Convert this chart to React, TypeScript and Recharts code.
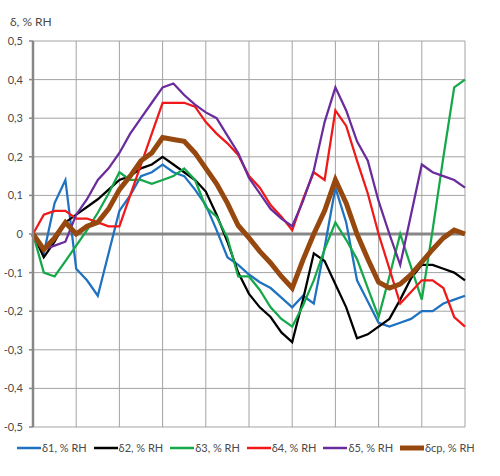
import { LineChart, Line, XAxis, YAxis, CartesianGrid, ReferenceLine, Legend } from "recharts"

// relative humidity points, % RH
const rh = [
  0, 2.5, 5, 7.5, 10, 12.5, 15, 17.5, 20, 22.5, 25, 27.5, 30, 32.5, 35, 37.5, 40, 42.5, 45, 47.5, 50,
  52.5, 55, 57.5, 60, 62.5, 65, 67.5, 70, 72.5, 75, 77.5, 80, 82.5, 85, 87.5, 90, 92.5, 95, 97.5, 100,
]

// deviations of each sensor, % RH
const d1 = [
  0, -0.05, 0.08, 0.14, -0.09, -0.12, -0.16, -0.05, 0.06, 0.1, 0.15, 0.16, 0.18, 0.16, 0.15, 0.115, 0.075,
  0.01, -0.06, -0.08, -0.105, -0.125, -0.14, -0.165, -0.19, -0.16, -0.18, -0.035, 0.12, 0.03, -0.12, -0.175,
  -0.23, -0.24, -0.23, -0.22, -0.2, -0.2, -0.18, -0.17, -0.16,
]
const d2 = [
  0, -0.06, -0.02, 0.03, 0.05, 0.07, 0.09, 0.115, 0.14, 0.15, 0.17, 0.18, 0.2, 0.18, 0.16, 0.14, 0.11, 0.05,
  -0.02, -0.1, -0.155, -0.19, -0.215, -0.255, -0.28, -0.17, -0.05, -0.07, -0.13, -0.19, -0.27, -0.26, -0.24,
  -0.22, -0.17, -0.115, -0.08, -0.08, -0.09, -0.1, -0.12,
]
const d3 = [
  0, -0.1, -0.11, -0.07, -0.03, 0.01, 0.055, 0.105, 0.16, 0.14, 0.14, 0.13, 0.14, 0.15, 0.17, 0.14, 0.07,
  0.045, -0.01, -0.11, -0.11, -0.145, -0.19, -0.22, -0.24, -0.185, -0.12, -0.04, 0.03, -0.015, -0.065, -0.14,
  -0.215, -0.11, 0, -0.085, -0.17, 0.01, 0.2, 0.38, 0.4,
]
const d4 = [
  0, 0.05, 0.06, 0.06, 0.04, 0.04, 0.03, 0.02, 0.02, 0.1, 0.18, 0.26, 0.34, 0.34, 0.34, 0.33, 0.29, 0.26,
  0.235, 0.205, 0.15, 0.12, 0.075, 0.045, 0.01, 0.09, 0.16, 0.14, 0.32, 0.28, 0.19, 0.105, 0, -0.09, -0.18,
  -0.15, -0.12, -0.12, -0.14, -0.215, -0.24,
]
const d5 = [
  0, -0.04, -0.03, -0.02, 0.05, 0.09, 0.14, 0.17, 0.21, 0.26, 0.3, 0.34, 0.38, 0.39, 0.36, 0.335, 0.315, 0.3,
  0.255, 0.21, 0.145, 0.105, 0.065, 0.04, 0.02, 0.085, 0.165, 0.29, 0.38, 0.32, 0.24, 0.19, 0.085, 0, -0.08,
  0.05, 0.18, 0.16, 0.15, 0.14, 0.12,
]
// mean deviation
const dcp = [
  0, -0.04, -0.01, 0.03, 0, 0.02, 0.03, 0.065, 0.115, 0.15, 0.19, 0.21, 0.25, 0.245, 0.24, 0.21, 0.17, 0.13,
  0.08, 0.022, -0.01, -0.045, -0.075, -0.11, -0.14, -0.067, 0, 0.06, 0.14, 0.08, 0, -0.065, -0.125, -0.14,
  -0.13, -0.105, -0.073, -0.04, -0.01, 0.01, 0,
]

const xTicks = [0, 10, 20, 30, 40, 50, 60, 70, 80, 90, 100]
const yTicks = [-0.5, -0.4, -0.3, -0.2, -0.1, 0, 0.1, 0.2, 0.3, 0.4, 0.5]

const data = rh.map((x, i) => ({
  rh: x,
  d1: d1[i],
  d2: d2[i],
  d3: d3[i],
  d4: d4[i],
  d5: d5[i],
  dcp: dcp[i],
}))

const series = [
  { key: "d1", name: "δ1, % RH", color: "#1f72c0", width: 2.25 },
  { key: "d2", name: "δ2, % RH", color: "#000000", width: 2.25 },
  { key: "d3", name: "δ3, % RH", color: "#14a84a", width: 2.25 },
  { key: "d4", name: "δ4, % RH", color: "#f01818", width: 2.25 },
  { key: "d5", name: "δ5, % RH", color: "#6a2c9c", width: 2.25 },
  { key: "dcp", name: "δcp, % RH", color: "#96480f", width: 5 },
]

const W = 500
const H = 476
const MARGIN = { top: 41, right: 35, bottom: 49, left: 1 }
const PLOT_H = H - MARGIN.top - MARGIN.bottom
const ZERO_Y = MARGIN.top + PLOT_H / 2
const FONT = "Lato, 'DejaVu Sans', sans-serif"
const TEXT = "#4a4a4a"
const AXIS = "#878787"

const fmt = (v: number) => (v === 0 ? "0" : v.toFixed(1).replace(".", ","))

// x labels sit under the zero line, not at the bottom of the plot
function RhTick({ x, payload }: any) {
  return (
    <text x={x} y={ZERO_Y + 18} textAnchor="middle" fill={TEXT} fontSize={11} fontFamily={FONT}>
      {payload.value}
    </text>
  )
}

function LegendRow() {
  return (
    <div style={{ display: "flex", fontFamily: FONT, fontSize: 11, color: TEXT }}>
      {series.map((s) => (
        <div key={s.key} style={{ width: 76.6, display: "flex", alignItems: "center", whiteSpace: "nowrap" }}>
          <svg width={24} height={8}>
            <line x1={0} y1={4} x2={24} y2={4} stroke={s.color} strokeWidth={s.width > 3 ? 5 : 2.5} />
          </svg>
          <span style={{ marginLeft: 1 }}>{s.name}</span>
        </div>
      ))}
    </div>
  )
}

export default function App() {
  return (
    <div style={{ position: "absolute", left: 0, top: 0, width: W, height: H, background: "#fff" }}>
      <LineChart width={W} height={H} data={data} margin={MARGIN}>
        <CartesianGrid stroke="#a3a3a3" strokeWidth={1} />
        <XAxis
          dataKey="rh"
          type="number"
          domain={[0, 100]}
          ticks={xTicks}
          height={0}
          axisLine={false}
          tickLine={false}
          tick={<RhTick />}
          label={{
            content: () => (
              <text x={W - MARGIN.right - 1} y={ZERO_Y + 35} textAnchor="middle" fill={TEXT} fontSize={12} fontFamily={FONT}>
                % RH
              </text>
            ),
          }}
        />
        <YAxis
          type="number"
          domain={[-0.5, 0.5]}
          ticks={yTicks}
          width={32}
          tickFormatter={fmt}
          tickSize={4}
          tickMargin={6}
          axisLine={{ stroke: AXIS, strokeWidth: 2.5 }}
          tickLine={{ stroke: AXIS, strokeWidth: 1.5 }}
          tick={{ fill: TEXT, fontSize: 11, fontFamily: FONT }}
          label={{
            content: () => (
              <text x={10} y={MARGIN.top - 15} fill={TEXT} fontSize={12} fontFamily={FONT}>
                δ, % RH
              </text>
            ),
          }}
        />
        <ReferenceLine y={0} stroke={AXIS} strokeWidth={3} />
        {series.map((s) => (
          <Line
            key={s.key}
            type="linear"
            dataKey={s.key}
            name={s.name}
            stroke={s.color}
            strokeWidth={s.width}
            dot={false}
            activeDot={false}
            isAnimationActive={false}
          />
        ))}
        <Legend
          verticalAlign="middle"
          align="center"
          layout="horizontal"
          content={<LegendRow />}
          wrapperStyle={{ top: 441, left: 17, width: 470, height: 16 }}
        />
      </LineChart>
    </div>
  )
}
